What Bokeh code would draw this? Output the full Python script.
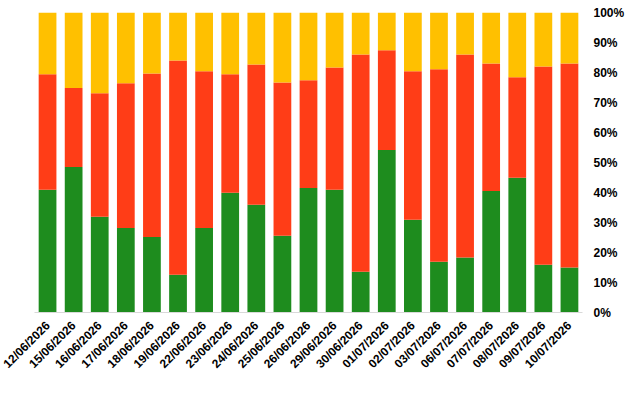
from bokeh.plotting import figure
from bokeh.models import ColumnDataSource, NumeralTickFormatter, FixedTicker, Legend, Range1d
from bokeh.embed import file_html
from bokeh.resources import INLINE
import math

dates = ["12/06/2026","15/06/2026","16/06/2026","17/06/2026","18/06/2026","19/06/2026","22/06/2026",
         "23/06/2026","24/06/2026","25/06/2026","26/06/2026","29/06/2026","30/06/2026","01/07/2026",
         "02/07/2026","03/07/2026","06/07/2026","07/07/2026","08/07/2026","09/07/2026","10/07/2026"]
tang = [40.9,48.5,31.9,28.2,25.2,12.6,28.2,39.9,35.9,25.6,41.5,40.9,13.6,54.2,30.9,16.9,18.3,40.5,44.9,15.9,15.0]
red_top = [79.4,74.8,73.1,76.4,79.7,84.0,80.4,79.4,82.7,76.7,77.4,81.7,86.0,87.4,80.4,81.1,86.0,83.0,78.4,82.0,83.0]
giam = [round(r - t, 1) for r, t in zip(red_top, tang)]
thamchieu = [round(100 - r, 1) for r in red_top]

src = ColumnDataSource(dict(x=dates, t=[v/100 for v in tang], g=[v/100 for v in giam], c=[v/100 for v in thamchieu]))

p = figure(x_range=dates, frame_width=548, frame_height=300, output_backend="svg",
           toolbar_location=None, y_axis_location="right", background_fill_color="white",
           border_fill_color="white", outline_line_color=None, min_border_left=34, min_border_top=12)
p.y_range = Range1d(0, 1)
rs = p.vbar_stack(["t", "g", "c"], x="x", width=0.68, source=src,
                  color=["#1e8c1e", "#ff3d17", "#ffc000"], line_color=None)
p.xgrid.grid_line_color = None
p.ygrid.grid_line_color = None
p.yaxis.ticker = FixedTicker(ticks=[i/10 for i in range(11)])
p.yaxis.formatter = NumeralTickFormatter(format="0%")
p.yaxis.axis_line_color = None
p.yaxis.major_tick_line_color = None
p.yaxis.minor_tick_line_color = None
p.xaxis.major_tick_line_color = None
p.xaxis.axis_line_color = "#d9d9d9"
p.xaxis.major_label_orientation = math.pi/4
for ax in (p.xaxis, p.yaxis):
    ax.major_label_text_font = "Liberation Sans"
    ax.major_label_text_font_size = "9pt"
    ax.major_label_text_font_style = "bold"
    ax.major_label_text_color = "black"

legend = Legend(items=[("Mã Tăng", [rs[0]]), ("Mã Giảm", [rs[1]]), ("Mã Tham Chiếu", [rs[2]])],
                orientation="horizontal", border_line_color=None,
                label_text_font="Liberation Sans", label_text_font_size="9pt",
                label_text_font_style="bold", glyph_width=10, glyph_height=10, spacing=20,
                padding=4, margin=4)
p.add_layout(legend, "below")

open("out.html", "w").write(file_html(p, INLINE))
